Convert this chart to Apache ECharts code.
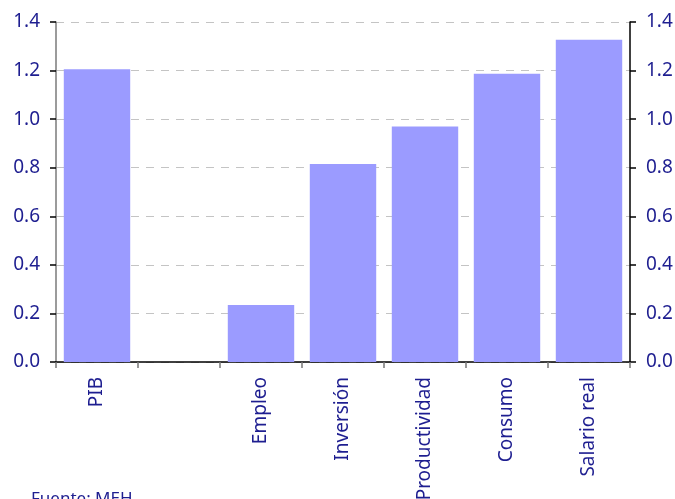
<!DOCTYPE html>
<html>
<head>
<meta charset="utf-8">
<script src="https://cdn.jsdelivr.net/npm/echarts@6/dist/echarts.min.js"></script>
<style>html,body{margin:0;padding:0;background:#fff}#c{width:675px;height:499px}</style>
</head>
<body>
<div id="c"></div>
<script>
var categories = ['PIB', '', 'Empleo', 'Inversión', 'Productividad', 'Consumo', 'Salario real'];
var values = [1.205, null, 0.235, 0.815, 0.97, 1.187, 1.327];
var yTicks = [0, 0.2, 0.4, 0.6, 0.8, 1.0, 1.2, 1.4];
var sourceText = 'Fuente: MEH';

var textColor = '#1e1e90';
var font = 'Noto Sans';
var chart = echarts.init(document.getElementById('c'), null, {renderer: 'canvas'});
function yAxis(pos, lineColor, showSplit) {
  return {
    type: 'value', position: pos, min: yTicks[0], max: yTicks[yTicks.length - 1], interval: 0.2,
    axisLine: {show: true, lineStyle: {color: lineColor, width: 1.5}},
    axisTick: {show: true, length: 6, lineStyle: {color: '#000', width: 1.5}},
    axisLabel: {color: textColor, fontFamily: font, fontSize: 19, margin: 16,
      formatter: function (v) { return v.toFixed(1); }},
    splitLine: {show: showSplit, lineStyle: {color: '#c4c4c4', type: [8, 7], width: 1}}
  };
}
chart.setOption({
  animation: false,
  grid: {left: 56, right: 45, top: 22, bottom: 137, containLabel: false, outerBoundsMode: 'none'},
  xAxis: {
    type: 'category', data: categories,
    axisLine: {lineStyle: {color: '#000', width: 1.5}},
    axisTick: {show: true, alignWithLabel: false, length: 6, lineStyle: {color: '#777', width: 1.5}},
    axisLabel: {rotate: 90, interval: 0, color: textColor, fontFamily: font, fontSize: 19, margin: 15}
  },
  yAxis: [yAxis('left', '#7a7a7a', true), yAxis('right', '#000', false)],
  series: [{
    type: 'bar', data: values, barCategoryGap: '19%',
    itemStyle: {color: '#9b9bff'}
  }],
  graphic: [{
    type: 'text', left: 31, top: 491,
    style: {text: sourceText, fill: textColor, font: '17px "Noto Sans"'}
  }]
});
</script>
</body>
</html>
